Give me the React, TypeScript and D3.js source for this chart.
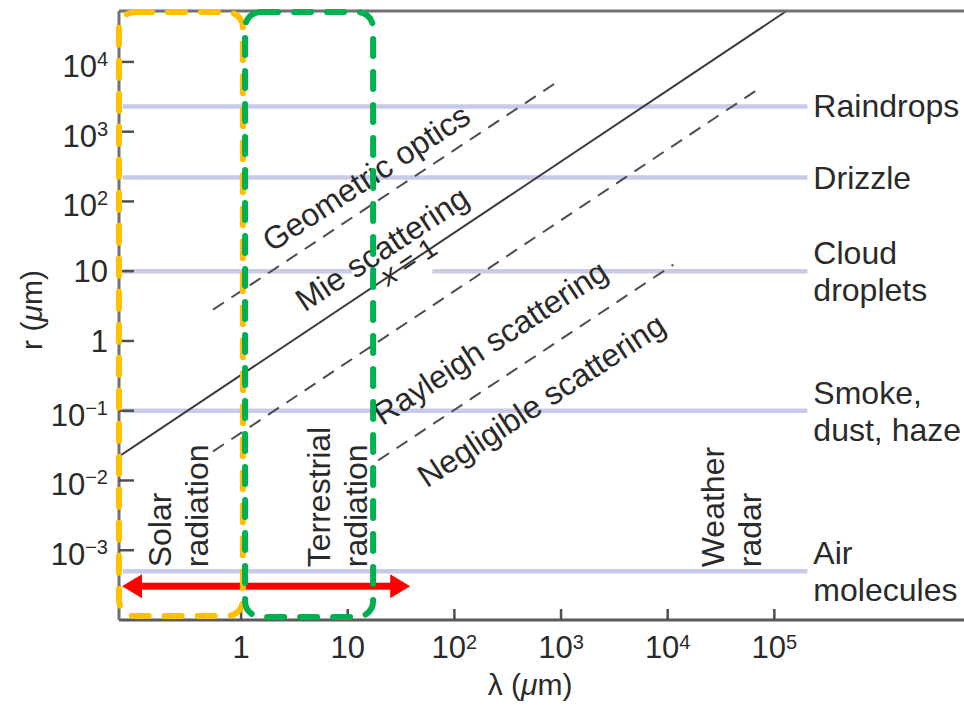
import React from 'react';
import * as d3 from 'd3';

const W = 964;
const H = 710;
const plotLeft = 119;
const plotRight = 964;
const plotTop = 11;
const plotBottom = 620;

// axis extents in µm
const lambdaExtent = [0.0717, 6.0e6];
const radiusExtent = [1e-4, 5.37e4];

const lambdaTicks = [1, 10, 1e2, 1e3, 1e4, 1e5];
const radiusTicks = [1e-3, 1e-2, 1e-1, 1, 10, 1e2, 1e3, 1e4];

// particle types (lavender lines)
const particleNames = [['Raindrops'], ['Drizzle'], ['Cloud', 'droplets'], ['Smoke,', 'dust, haze'], ['Air', 'molecules']];
const particleRadius = [2300, 220, 10, 0.1, 5e-4];
const particleLineEnd = 2.04e5;
const cloudGap = [11, 57]; // where "x = 1" sits on the cloud line

// regime boundaries, [λ, r] end points
const boundaryStart = [[0.546, 2.81], [0.0717, 0.0221], [0.546, 0.0261], [19.3, 0.0194]];
const boundaryEnd = [[921, 5160], [1.3e5, 5.37e4], [6.9e4, 3970], [1.13e4, 12.4]];
const boundaryDashed = [true, false, true, true];

// diagonal labels and their centres [λ, r]
const regimeLabels = ['Geometric optics', 'Mie scattering', 'x = 1', 'Rayleigh scattering', 'Negligible scattering'];
const regimeLabelAt = [[14.9, 218], [21, 21], [37, 13.7], [217, 0.95], [652, 0.14]];

// vertical labels, [λ of first baseline, r of bottom]
const bandLabels = [['Solar', 'radiation'], ['Terrestrial', 'radiation'], ['Weather', 'radar']];
const bandLabelAt = [[0.22, 5.7e-4], [6.8, 5.7e-4], [3.4e4, 5.7e-4]];

// wavelength windows
const solarBand = [0.0717, 1.04];
const terrestrialBand = [1.09, 17.3];
const arrowSpan = [0.0765, 38.5];
const arrowRadius = 3.05e-4;

const FONT = '"Liberation Sans", Arial, Helvetica, sans-serif';
const INK = '#2a2a2a';
const LABEL = 32;

function powerLabel(v: number) {
    const e = Math.round(Math.log10(v));
    if (e === 0) return { base: '1', exp: '' };
    if (e === 1) return { base: '10', exp: '' };
    return { base: '10', exp: e < 0 ? '\u2212' + (-e) : String(e) };
}

export default function App() {
    const x = d3.scaleLog().domain(lambdaExtent).range([plotLeft, plotRight]);
    const y = d3.scaleLog().domain(radiusExtent).range([plotBottom, plotTop]);
    const line = d3.line<number[]>().x(d => x(d[0])).y(d => y(d[1]));

    // screen angle of a slope-1 line in log-log space
    const angle = Math.atan2(y(1) - y(10), x(10) - x(1)) * 180 / Math.PI;

    const bandRect = (band: number[], inset: number) => {
        const x0 = x(band[0]);
        const x1 = x(band[1]);
        return { x: x0, y: plotTop + 1, width: x1 - x0, height: plotBottom - plotTop - inset };
    };
    const solar = bandRect(solarBand, 5);
    const terr = bandRect(terrestrialBand, 4);

    const ay = y(arrowRadius);
    const ax0 = x(arrowSpan[0]);
    const ax1 = x(arrowSpan[1]);
    const head = 20;
    const half = 12;

    return (
        <svg width={W} height={H} style={{ position: 'absolute', left: 0, top: 0, background: '#fff' }}
            fontFamily={FONT}>
            <defs>
                <clipPath id="plot">
                    <rect x={plotLeft} y={plotTop} width={plotRight - plotLeft} height={plotBottom - plotTop} />
                </clipPath>
            </defs>

            {/* particle size lines */}
            <g stroke="#c9cae8" strokeWidth={4.5} fill="none">
                {particleRadius.map((r, i) => {
                    const segs = i === 2
                        ? [[lambdaExtent[0], cloudGap[0]], [cloudGap[1], particleLineEnd]]
                        : [[lambdaExtent[0], particleLineEnd]];
                    return segs.map((s, j) => (
                        <line key={i + '-' + j} x1={x(s[0]) + 4} x2={x(s[1])} y1={y(r)} y2={y(r)} />
                    ));
                })}
            </g>

            {/* regime boundaries */}
            <g clipPath="url(#plot)" fill="none">
                {boundaryStart.map((p, i) => (
                    <path key={i} d={line([p, boundaryEnd[i]]) || ''}
                        stroke={boundaryDashed[i] ? '#4d4d4d' : '#3a3a3a'}
                        strokeWidth={2}
                        strokeDasharray={boundaryDashed[i] ? '13 9' : undefined} />
                ))}
            </g>

            {/* diagonal labels */}
            <g fill={INK}>
                {regimeLabels.map((t, i) => {
                    const px = x(regimeLabelAt[i][0]);
                    const py = y(regimeLabelAt[i][1]);
                    return (
                        <text key={t} transform={`translate(${px},${py}) rotate(${-angle})`}
                            textAnchor="middle" dominantBaseline="central"
                            fontSize={t === 'x = 1' ? 28 : LABEL}>
                            {t === 'x = 1' ? <><tspan fontStyle="italic">x</tspan> = 1</> : t}
                        </text>
                    );
                })}
            </g>

            {/* vertical labels */}
            <g fill={INK} fontSize={LABEL}>
                {bandLabels.map((lines, i) => {
                    const px = x(bandLabelAt[i][0]);
                    const py = y(bandLabelAt[i][1]);
                    return lines.map((t, j) => (
                        <text key={i + t} transform={`translate(${px + j * 37},${py}) rotate(-90)`}>{t}</text>
                    ));
                })}
            </g>

            {/* right-hand particle labels */}
            <g fill={INK} fontSize={LABEL}>
                {particleNames.map((lines, i) => {
                    const cy = y(particleRadius[i]);
                    const lx = x(particleLineEnd) + 6;
                    return lines.map((t, j) => (
                        <text key={t} x={lx} y={cy + (lines.length === 1 ? 0 : (j === 0 ? -18 : 19))}
                            dominantBaseline="central">{t}</text>
                    ));
                })}
            </g>

            {/* axes */}
            <g stroke="#707070" strokeWidth={3} fill="none">
                <line x1={plotLeft} x2={plotRight} y1={plotTop} y2={plotTop} />
                <line x1={plotLeft} x2={plotRight} y1={plotBottom} y2={plotBottom} stroke="#5a5a5a" />
                <line x1={plotLeft} x2={plotLeft} y1={plotTop} y2={plotBottom} />
            </g>
            <g stroke="#505050" strokeWidth={2.5}>
                {radiusTicks.map(v => (
                    <line key={v} x1={plotLeft} x2={plotLeft + 15} y1={y(v)} y2={y(v)} />
                ))}
                {lambdaTicks.map(v => (
                    <line key={v} x1={x(v)} x2={x(v)} y1={plotBottom} y2={plotBottom - 11} />
                ))}
            </g>
            <g fill={INK} fontSize={31}>
                {radiusTicks.map(v => {
                    const l = powerLabel(v);
                    return (
                        <text key={v} x={108} y={y(v) + (l.exp ? 15 : 11)} textAnchor="end">
                            {l.base}
                            {l.exp && <tspan dy={-11} fontSize={20}>{l.exp}</tspan>}
                        </text>
                    );
                })}
                {lambdaTicks.map(v => {
                    const l = powerLabel(v);
                    return (
                        <text key={v} x={x(v)} y={658} textAnchor="middle">
                            {l.base}
                            {l.exp && <tspan dy={-9} fontSize={20}>{l.exp}</tspan>}
                        </text>
                    );
                })}
                <text x={530} y={695} textAnchor="middle" fontSize={30}>
                    λ (<tspan fontStyle="italic">μ</tspan>m)
                </text>
                <text transform="translate(42,310) rotate(-90)" textAnchor="middle" fontSize={30}>
                    r (<tspan fontStyle="italic">μ</tspan>m)
                </text>
            </g>

            {/* red arrow */}
            <g fill="#ff0000">
                <rect x={ax0 + head - 1} y={ay - 3.5} width={ax1 - ax0 - 2 * head + 2} height={7} />
                <path d={`M${ax0},${ay} L${ax0 + head},${ay - half} L${ax0 + head},${ay + half} Z`} />
                <path d={`M${ax1},${ay} L${ax1 - head},${ay - half} L${ax1 - head},${ay + half} Z`} />
            </g>

            {/* radiation windows */}
            <rect {...solar} rx={16} ry={16} fill="none" stroke="#ffc000" strokeWidth={6}
                strokeDasharray="17 16" strokeLinecap="round" />
            <rect {...terr} rx={16} ry={16} fill="none" stroke="#00b050" strokeWidth={6}
                strokeDasharray="17 16" strokeLinecap="round" />
        </svg>
    );
}
